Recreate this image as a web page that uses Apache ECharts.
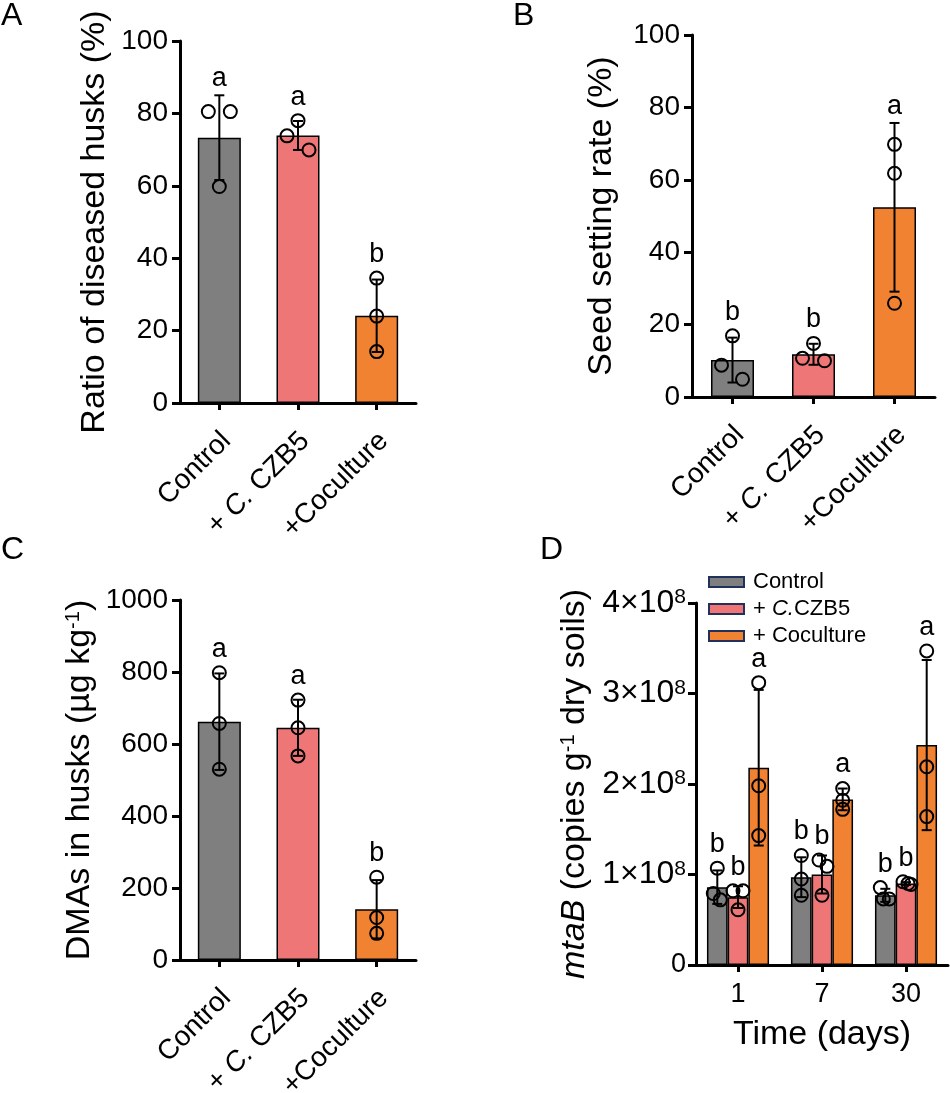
<!DOCTYPE html>
<html><head><meta charset="utf-8">
<script src="https://cdn.jsdelivr.net/npm/echarts@6/dist/echarts.min.js"></script>
<style>html,body{margin:0;padding:0;background:#fff}#c{width:950px;height:1093px}</style>
</head><body><div id="c"></div>
<script>
// ---------- data ----------
const categories = ['Control', '+ C. CZB5', '+Coculture'];
// Panel A: ratio of diseased husks (%)
const aMean = [73.3, 73.9, 24.1];
const aSd = [11.7, 4.0, 10.0];
const aPoints = [[80.5, 80.5, 59.8], [78.0, 73.8, 69.9], [34.5, 24.0, 14.2]];
const aLetters = ['a', 'a', 'b'];
// Panel B: seed setting rate (%)
const bMean = [10.2, 11.8, 52.4];
const bSd = [6.2, 2.9, 23.3];
const bPoints = [[16.9, 8.8, 4.9], [14.8, 10.7, 10.0], [69.8, 61.8, 25.9]];
const bLetters = ['b', 'b', 'a'];
// Panel C: DMAs in husks (ug/kg)
const cMean = [662, 645, 141];
const cSd = [134, 78, 81];
const cPoints = [[798, 657, 530], [722, 645, 567], [230, 118, 74]];
const cLetters = ['a', 'a', 'b'];
// Panel D: mtaB copies (units of 1e8 copies per g dry soil)
const days = ['1', '7', '30'];
const dSeriesNames = ['Control', '+ C.CZB5', '+ Coculture'];
const dMean = [[0.86, 0.97, 0.77], [0.75, 1.00, 0.90], [2.18, 1.83, 2.43]];
const dSd = [[0.185, 0.22, 0.072], [0.12, 0.21, 0.015], [0.86, 0.12, 0.94]];
const dPoints = [
  [[1.07, 0.79, 0.72], [1.21, 0.95, 0.77], [0.855, 0.73, 0.73]],
  [[0.82, 0.82, 0.61], [1.16, 1.09, 0.77], [0.92, 0.90, 0.89]],
  [[3.12, 1.98, 1.43], [1.95, 1.82, 1.72], [3.47, 2.19, 1.64]]
];
const dLetters = [['b', 'b', 'b'], ['b', 'b', 'b'], ['a', 'a', 'a']];

// ---------- styling (not data) ----------
const FONT = 'Liberation Sans';
const colors = ['#7f7f80', '#ee7677', '#f18232'];
const jitterA = [[-11, 11, 0], [0, -11, 11], [0, 0, 0]];
const jitterB = [[0, -11, 10], [0, -11, 11], [0, 0, 0]];
const jitterC = [[0, 0, 0], [0, 0, 0], [0, 0, 0]];
const jitterD = [
  [[0, -4, 3], [0, 0, 0], [-5, -2, 4]],
  [[-5, 5, 0], [-3, 5, 0], [-3, 2, 5]],
  [[0, 0, 0], [0, 0, 0], [0, 0, 0]]
];
const BAR_W = 43;
const BAR_W_D = 20.7;
const TITLE_SIZE = 34;

function overlay(gi, means, sds, points, jitter, letters, k, nGroup, barW) {
  return {
    type: 'custom', xAxisIndex: gi, yAxisIndex: gi, z: 10, silent: true,
    data: means.map((m, i) => [i, m]),
    renderItem(params, api) {
      const i = params.dataIndex;
      const dx = (k == null) ? 0 : (k - (nGroup - 1) / 2) * barW;
      const x = api.coord([i, means[i]])[0] + dx;
      const yTop = api.coord([i, means[i] + sds[i]])[1];
      const yBot = api.coord([i, Math.max(means[i] - sds[i], 0)])[1];
      const ls = { stroke: '#000', lineWidth: 2 };
      const ch = [
        { type: 'line', shape: { x1: x, y1: yTop, x2: x, y2: yBot }, style: ls },
        { type: 'line', shape: { x1: x - 5, y1: yTop, x2: x + 5, y2: yTop }, style: ls },
        { type: 'line', shape: { x1: x - 5, y1: yBot, x2: x + 5, y2: yBot }, style: ls }
      ];
      let top = yTop;
      points[i].forEach((v, j) => {
        const py = api.coord([i, v])[1];
        ch.push({ type: 'circle', shape: { cx: x + jitter[i][j], cy: py, r: 6.5 },
          style: { fill: 'none', stroke: '#000', lineWidth: 2 } });
        top = Math.min(top, py - 7);
      });
      ch.push({ type: 'text', x: x, y: top - 3,
        style: { text: letters[i], fontSize: 27, fontFamily: FONT, fill: '#000',
          align: 'center', verticalAlign: 'bottom' } });
      return { type: 'group', children: ch };
    }
  };
}

const axisLineStyle = { show: true, lineStyle: { color: '#000', width: 3 } };
const axisTickStyle = { show: true, length: 8, lineStyle: { color: '#000', width: 3 } };

function yAxisBase(gi, max, interval, name, nameGap, extra) {
  return Object.assign({
    type: 'value', gridIndex: gi, min: 0, max: max, interval: interval,
    axisLine: axisLineStyle, axisTick: axisTickStyle, splitLine: { show: false },
    axisLabel: { fontSize: 28, color: '#000', fontFamily: FONT, margin: 12, formatter: v => String(v) },
    name: name, nameLocation: 'middle', nameGap: nameGap, nameRotate: 90,
    nameTextStyle: { fontSize: TITLE_SIZE, color: '#000', fontFamily: FONT,
      rich: { s: { fontSize: 20, fontFamily: FONT, color: '#000', verticalAlign: 'top' },
              i: { fontSize: TITLE_SIZE, fontFamily: FONT, color: '#000', fontStyle: 'italic' } } }
  }, extra || {});
}

function xAxisCat(gi) {
  return {
    type: 'category', gridIndex: gi, data: categories,
    axisLine: axisLineStyle,
    axisTick: { show: true, alignWithLabel: true, length: 7, lineStyle: { color: '#000', width: 3 } },
    axisLabel: {
      interval: 0, rotate: 45, fontSize: 28, color: '#000', fontFamily: FONT,
      margin: 21, verticalAlign: 'top', padding: [0, 4, 0, 0],
      formatter: v => v === '+ C. CZB5' ? '+ {i|C.} CZB5' : v,
      rich: { i: { fontSize: 28, fontFamily: FONT, color: '#000', fontStyle: 'italic' } }
    }
  };
}

function barSeries(gi, means) {
  return {
    type: 'bar', xAxisIndex: gi, yAxisIndex: gi, barWidth: BAR_W,
    data: means.map((m, i) => ({ value: m, itemStyle: { color: colors[i] } })),
    itemStyle: { borderColor: '#000', borderWidth: 1.5 }, silent: true
  };
}

const grids = [
  { left: 180, top: 41, width: 236, height: 362, outerBoundsMode: 'none' },
  { left: 692, top: 35, width: 243, height: 362, outerBoundsMode: 'none' },
  { left: 180, top: 600, width: 236, height: 360, outerBoundsMode: 'none' },
  { left: 696, top: 603, width: 252, height: 362, outerBoundsMode: 'none' }
];

const option = {
  animation: false,
  backgroundColor: '#fff',
  grid: grids,
  xAxis: [
    xAxisCat(0), xAxisCat(1), xAxisCat(2),
    {
      type: 'category', gridIndex: 3, data: days,
      axisLine: axisLineStyle,
      axisTick: { show: true, alignWithLabel: true, length: 7, lineStyle: { color: '#000', width: 3 } },
      axisLabel: { interval: 0, fontSize: 27, color: '#000', fontFamily: FONT, margin: 16 },
      name: 'Time (days)', nameLocation: 'middle', nameGap: 53,
      nameTextStyle: { fontSize: TITLE_SIZE, color: '#000', fontFamily: FONT }
    }
  ],
  yAxis: [
    yAxisBase(0, 100, 20, 'Ratio of diseased husks (%)', 68),
    yAxisBase(1, 100, 20, 'Seed setting rate (%)', 73),
    yAxisBase(2, 1000, 200, 'DMAs in husks (µg kg{s|-1})', 83),
    yAxisBase(3, 4, 1, '{i|mtaB} (copies g{s|-1} dry soils)', 104, {
      axisLabel: {
        fontSize: 27, color: '#000', fontFamily: FONT, margin: 10,
        formatter: v => v === 0 ? '0' : '{n|' + v + '×10}{s|8}',
        rich: { n: { fontSize: 32, fontFamily: FONT, color: '#000' },
                s: { fontSize: 21, fontFamily: FONT, color: '#000', verticalAlign: 'top' } }
      }
    })
  ],
  legend: {
    orient: 'vertical', left: 708, top: 571, itemGap: 5, padding: 0,
    itemWidth: 35, itemHeight: 10, icon: 'rect',
    textStyle: { fontSize: 22, color: '#000', fontFamily: FONT, lineHeight: 22, padding: [0, 0, 0, 4],
      rich: { i: { fontSize: 22, fontFamily: FONT, color: '#000', fontStyle: 'italic', lineHeight: 22 } } },
    formatter: n => n === '+ C.CZB5' ? '+ {i|C.}CZB5' : n,
    data: dSeriesNames.map(n => ({ name: n, itemStyle: { borderColor: '#22305c', borderWidth: 2 } }))
  },
  graphic: [
    { type: 'text', left: 1, top: 0, style: { text: 'A', fontSize: 32, fontFamily: FONT, fill: '#000' } },
    { type: 'text', left: 513, top: 0, style: { text: 'B', fontSize: 32, fontFamily: FONT, fill: '#000' } },
    { type: 'text', left: 1, top: 534, style: { text: 'C', fontSize: 32, fontFamily: FONT, fill: '#000' } },
    { type: 'text', left: 540, top: 534, style: { text: 'D', fontSize: 32, fontFamily: FONT, fill: '#000' } }
  ],
  series: [
    barSeries(0, aMean), overlay(0, aMean, aSd, aPoints, jitterA, aLetters),
    barSeries(1, bMean), overlay(1, bMean, bSd, bPoints, jitterB, bLetters),
    barSeries(2, cMean), overlay(2, cMean, cSd, cPoints, jitterC, cLetters)
  ]
};

dSeriesNames.forEach((n, k) => {
  option.series.push({
    type: 'bar', name: n, xAxisIndex: 3, yAxisIndex: 3, barWidth: BAR_W_D, barGap: '0%',
    data: dMean[k], itemStyle: { color: colors[k], borderColor: '#000', borderWidth: 1.5 }, silent: true
  });
});
dSeriesNames.forEach((n, k) => {
  option.series.push(overlay(3, dMean[k], dSd[k], dPoints[k], jitterD[k], dLetters[k], k, 3, BAR_W_D));
});

const chart = echarts.init(document.getElementById('c'), null, { renderer: 'canvas' });
chart.setOption(option);
</script>
</body></html>
